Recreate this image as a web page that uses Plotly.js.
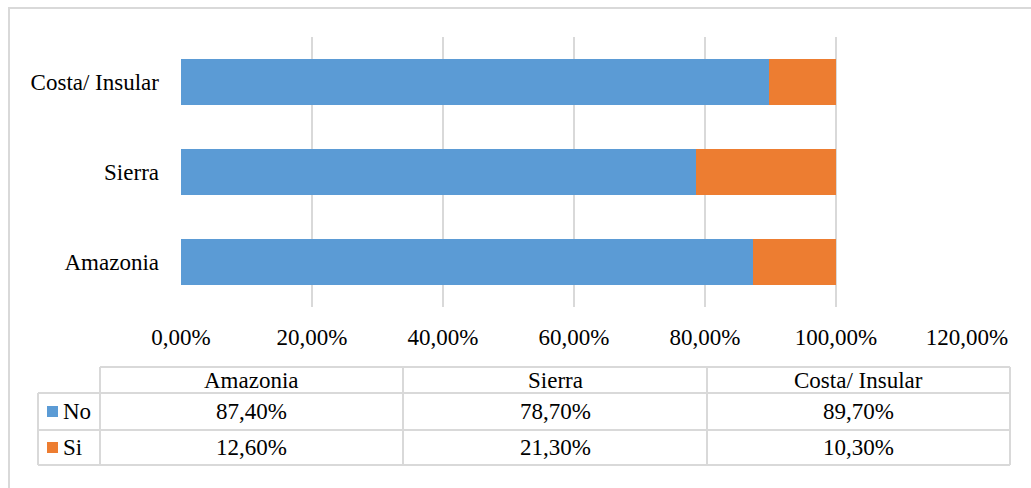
<!DOCTYPE html>
<html>
<head>
<meta charset="utf-8">
<script src="https://cdn.plot.ly/plotly-3.0.1.min.js"></script>
<style>
  html, body { margin: 0; padding: 0; background: #fff; }
  #chart { width: 1031px; height: 488px; }
</style>
</head>
<body>
<div id="chart"></div>
<script>
// regions, bottom to top as drawn on the y axis
const regions = ['Amazonia', 'Sierra', 'Costa/ Insular'];
const seriesNames = ['No', 'Si'];
const noValues = [0.874, 0.787, 0.897];
const siValues = [0.126, 0.213, 0.103];
const xTicks = [0, 0.2, 0.4, 0.6, 0.8, 1.0, 1.2];

const colors = {No: '#5b9bd5', Si: '#ed7d31'};
const grid = '#d9d9d9';
const font = '"Liberation Serif", "Times New Roman", Times, serif';

// plot area in pixels, used to place the data table under the chart
const L = 181, R = 967, T = 37, B = 307;
const fx = px => (px - L) / (R - L);
const fy = py => (B - py) / (B - T);

const pct = v => (v * 100).toFixed(2).replace('.', ',') + '%';

let traces = [
  {
    type: 'bar', orientation: 'h', name: 'No',
    y: regions, x: noValues,
    marker: {color: colors.No, line: {width: 0}},
    hoverinfo: 'none'
  },
  {
    type: 'bar', orientation: 'h', name: 'Si',
    y: regions, x: siValues,
    marker: {color: colors.Si, line: {width: 0}},
    hoverinfo: 'none'
  }
];

let shapes = [];
let annotations = [];

function line(x0, y0, x1, y1) {
  shapes.push({
    type: 'line', xref: 'paper', yref: 'paper',
    x0: fx(x0), y0: fy(y0), x1: fx(x1), y1: fy(y1),
    line: {color: grid, width: 2}
  });
}
function label(text, px, py, anchor) {
  annotations.push({
    xref: 'paper', yref: 'paper', x: fx(px), y: fy(py),
    text: text, showarrow: false,
    xanchor: anchor || 'center', yanchor: 'middle',
    font: {family: font, size: 23, color: '#000'}
  });
}

// outer chart border
shapes.push({
  type: 'rect', xref: 'paper', yref: 'paper',
  x0: fx(9), y0: fy(8), x1: fx(1060), y1: fy(520),
  line: {color: grid, width: 2}
});

// data table grid
const cols = [100, 403, 707, 1010];
const rows = [367, 393, 430, 465];
line(cols[0], rows[0], cols[3], rows[0]);
line(38, rows[1], cols[3], rows[1]);
line(38, rows[2], cols[3], rows[2]);
line(38, rows[3], cols[3], rows[3]);
line(38, rows[1], 38, rows[3]);
cols.forEach(c => line(c, rows[0], c, rows[3]));

// header and values
const rowMid = [380, 411.5, 447.5];
regions.forEach((r, i) => {
  const cx = (cols[i] + cols[i + 1]) / 2;
  label(r, cx, rowMid[0]);
  label(pct(noValues[i]), cx, rowMid[1]);
  label(pct(siValues[i]), cx, rowMid[2]);
});

// legend keys inside the table
seriesNames.forEach((s, i) => {
  const cy = rowMid[i + 1];
  shapes.push({
    type: 'rect', xref: 'paper', yref: 'paper',
    x0: fx(47), x1: fx(58), y0: fy(cy - 5.5), y1: fy(cy + 5.5),
    fillcolor: colors[s], line: {width: 0}
  });
  label(s, 61, cy, 'left');
});

const layout = {
  width: 1031, height: 488,
  margin: {l: L, r: 1031 - R, t: T, b: 488 - B},
  paper_bgcolor: '#fff', plot_bgcolor: '#fff',
  barmode: 'stack', bargap: 0.49,
  showlegend: false,
  separators: ',.',
  font: {family: font, size: 23, color: '#000'},
  xaxis: {
    range: [0, 1.2], tickvals: xTicks, tickformat: '.2%',
    showgrid: true, gridcolor: grid, gridwidth: 2,
    zeroline: false, showline: false, ticks: '',
    ticklabelstandoff: 14, fixedrange: true
  },
  yaxis: {
    type: 'category', categoryorder: 'array', categoryarray: regions,
    showgrid: false, zeroline: false, showline: false, ticks: '',
    ticklabelstandoff: 21, fixedrange: true
  },
  shapes: shapes,
  annotations: annotations
};

Plotly.newPlot('chart', traces, layout, {staticPlot: true, displayModeBar: false});
</script>
</body>
</html>
